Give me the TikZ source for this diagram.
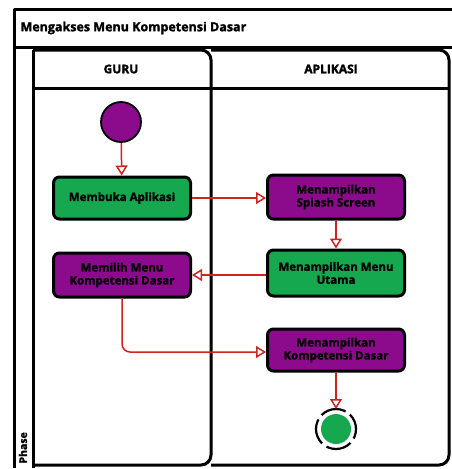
\documentclass[tikz,border=0pt]{standalone}
\usepackage{fontspec}
\setmainfont{Open Sans}[BoldFeatures={FakeBold=1.6}]
\usetikzlibrary{arrows.meta,shapes.geometric}
\definecolor{actgreen}{RGB}{22,168,78}
\definecolor{actpurple}{RGB}{140,10,140}
\definecolor{flowred}{RGB}{205,35,35}
\tikzset{
  frame/.style={draw=black,line width=3pt,line join=round},
  lane/.style={draw=black,line width=3pt,rounded corners=10pt},
  action/.style={draw=black,line width=3pt,rounded corners=6pt,minimum width=137pt,
    minimum height=42pt,align=center,inner sep=1pt,
    font=\bfseries\fontsize{11.5}{13}\selectfont,text=black},
  greenact/.style={action,fill=actgreen},
  purpleact/.style={action,fill=actpurple},
  flow/.style={draw=flowred,line width=1.5pt,
    -{Triangle[open,length=10pt,width=12pt,line width=1.5pt]}},
  header/.style={font=\bfseries\fontsize{12}{14}\selectfont}
}
\begin{document}
\begin{tikzpicture}[x=1pt,y=-1pt]
\useasboundingbox (0,0) rectangle (452,469);
% swimlane frame with title bar
\draw[frame] (470,9) -- (14,9) -- (14,468);
\draw[frame] (14,47) -- (470,47);
\draw[frame] (33,50) -- (33,468);
\node[anchor=west,font=\bfseries\fontsize{12.5}{14}\selectfont] (title) at (17,28) {Mengakses Menu Kompetensi Dasar};
\node[rotate=90,anchor=west,font=\bfseries\fontsize{10.5}{12}\selectfont] (phase) at (23,467) {Phase};
% lanes
\draw[lane] (33,50) -- (211,50) -- (211,465) -- (33,465);
\draw[lane] (211,50) -- (449,50) -- (449,465) -- (211,465);
\draw[frame] (33,88) -- (449,88);
\node[header] (guru) at (121,69) {GURU};
\node[header] (apl) at (331,69) {APLIKASI};
% activities
\node[circle,draw=black,line width=1.8pt,fill=actpurple,minimum size=40pt,inner sep=0pt] (start) at (121,122) {};
\node[greenact] (buka) at (122,198) {Membuka Aplikasi};
\node[purpleact,minimum height=44pt] (splash) at (336,197) {Menampilkan\\Splash Screen};
\node[greenact,minimum height=46pt] (utama) at (336,273) {Menampilkan Menu\\Utama};
\node[purpleact,minimum height=44pt] (pilih) at (122,275) {Memilih Menu\\Kompetensi Dasar};
\node[purpleact] (kd) at (336,350) {Menampilkan\\Kompetensi Dasar};
\node[circle,fill=actgreen,minimum size=30pt,inner sep=0pt] (end) at (336,429) {};
\draw[line width=2.2pt,dash pattern=on 26pt off 5.4pt,dash phase=10pt] (end.center) circle (20pt);
% control flow
\draw[flow] (start) -- (buka);
\draw[flow] (buka) -- (splash.west |- buka.east);
\draw[flow] (splash) -- (utama);
\draw[flow] (utama.west |- pilih.east) -- (pilih);
\draw[flow,rounded corners=8pt] (pilih.south) -- (122,352) -- (kd.west |- 0,352);
\draw[flow] (kd) -- (336,409);
\end{tikzpicture}
\end{document}
